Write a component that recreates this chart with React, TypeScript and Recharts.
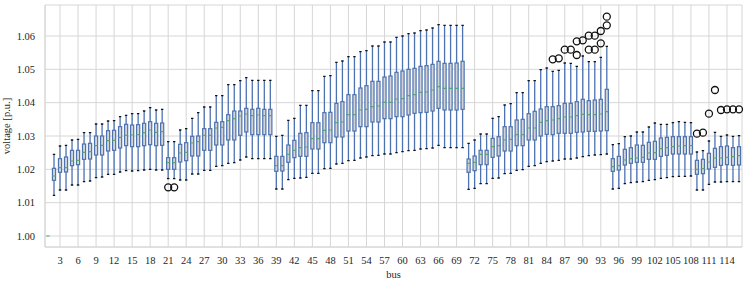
import { ComposedChart, Bar, Scatter, XAxis, YAxis, CartesianGrid } from 'recharts'

// bus voltage spread over all scenarios, one box per bus (bus 1 = slack)
const buses = Array.from({ length: 116 }, (_, i) => i + 1)

const whiskerLow = [
  1.0, 1.0122, 1.0138, 1.0138, 1.0153, 1.0153, 1.0163, 1.0165, 1.0175, 1.0177,
  1.0185, 1.0185, 1.0192, 1.0196, 1.0195, 1.0196, 1.0198, 1.02, 1.0198, 1.0198,
  1.0172, 1.0172, 1.0168, 1.0168, 1.0186, 1.0186, 1.0197, 1.0197, 1.0209, 1.0211,
  1.0218, 1.022, 1.0228, 1.0237, 1.0232, 1.0232, 1.0232, 1.0232, 1.0141, 1.0141,
  1.0169, 1.0173, 1.0174, 1.0176, 1.0188, 1.0188, 1.0202, 1.0203, 1.0216, 1.0218,
  1.0226, 1.0227, 1.0234, 1.0237, 1.0241, 1.0242, 1.0246, 1.0246, 1.025, 1.0253,
  1.0256, 1.0257, 1.0261, 1.0262, 1.0264, 1.0272, 1.0265, 1.0265, 1.0265, 1.0265,
  1.014, 1.0143, 1.0157, 1.0157, 1.0173, 1.0174, 1.0187, 1.0188, 1.0197, 1.0199,
  1.0209, 1.0211, 1.0218, 1.0223, 1.0225, 1.0227, 1.0231, 1.0231, 1.0234, 1.0238,
  1.0241, 1.0243, 1.0244, 1.0246, 1.0141, 1.0143, 1.0157, 1.016, 1.0162, 1.0163,
  1.0167, 1.0169, 1.0173, 1.0175, 1.0178, 1.0179, 1.0179, 1.018, 1.0138, 1.0138,
  1.0155, 1.0162, 1.0162, 1.0163, 1.0163, 1.0163,
]
const quartile1 = [
  1.0, 1.0167, 1.0191, 1.0192, 1.0211, 1.0214, 1.023, 1.0231, 1.0243, 1.0243,
  1.0255, 1.0257, 1.0264, 1.0271, 1.0268, 1.0268, 1.0271, 1.0274, 1.0271, 1.0272,
  1.02, 1.02, 1.0222, 1.0226, 1.024, 1.024, 1.0257, 1.0257, 1.0273, 1.0273,
  1.0288, 1.0288, 1.0302, 1.0312, 1.0304, 1.0304, 1.0304, 1.0304, 1.0194, 1.0195,
  1.0221, 1.0235, 1.0239, 1.0239, 1.0261, 1.0261, 1.028, 1.028, 1.0297, 1.0297,
  1.0315, 1.0315, 1.0328, 1.0328, 1.0342, 1.0342, 1.0352, 1.0352, 1.0358, 1.0358,
  1.0363, 1.0368, 1.037, 1.0371, 1.0375, 1.0383, 1.0378, 1.0378, 1.0378, 1.038,
  1.0191, 1.0196, 1.0214, 1.0214, 1.0236, 1.024, 1.0255, 1.0255, 1.0271, 1.0271,
  1.0288, 1.0288, 1.03, 1.0305, 1.0304, 1.0308, 1.0308, 1.0308, 1.0311, 1.0312,
  1.0314, 1.0314, 1.0315, 1.0316, 1.0194, 1.0198, 1.0213, 1.0218, 1.0221, 1.0221,
  1.023, 1.023, 1.0239, 1.0242, 1.0246, 1.0246, 1.0246, 1.0246, 1.0185, 1.0187,
  1.0201, 1.0206, 1.0212, 1.0214, 1.0212, 1.0213,
]
const median = [
  1.0, 1.018, 1.0205, 1.0205, 1.0225, 1.0227, 1.0251, 1.0253, 1.0271, 1.0272,
  1.0286, 1.0287, 1.0296, 1.0302, 1.0303, 1.0304, 1.031, 1.0318, 1.0311, 1.0313,
  1.022, 1.022, 1.0249, 1.0251, 1.0279, 1.0283, 1.0302, 1.0302, 1.0324, 1.0326,
  1.0346, 1.0352, 1.036, 1.0366, 1.0361, 1.0363, 1.0361, 1.0361, 1.0211, 1.0211,
  1.0245, 1.0257, 1.0265, 1.0267, 1.0292, 1.0292, 1.0317, 1.0318, 1.034, 1.0342,
  1.0364, 1.0364, 1.0378, 1.038, 1.0388, 1.039, 1.0401, 1.0401, 1.0411, 1.0412,
  1.0421, 1.0424, 1.0431, 1.0432, 1.0438, 1.0448, 1.0443, 1.0443, 1.0443, 1.0443,
  1.0218, 1.0221, 1.0245, 1.0245, 1.0268, 1.0271, 1.0288, 1.029, 1.0304, 1.0304,
  1.0324, 1.0324, 1.0341, 1.0346, 1.0348, 1.0352, 1.0357, 1.0357, 1.0361, 1.0365,
  1.0364, 1.0364, 1.0366, 1.0373, 1.0208, 1.0211, 1.0228, 1.0232, 1.0234, 1.0236,
  1.0249, 1.025, 1.0262, 1.0265, 1.0268, 1.027, 1.0271, 1.0271, 1.02, 1.0202,
  1.0222, 1.0234, 1.0234, 1.0236, 1.0238, 1.0241,
]
const quartile3 = [
  1.0, 1.0203, 1.0232, 1.0237, 1.0257, 1.0257, 1.0276, 1.0278, 1.03, 1.03,
  1.0316, 1.0317, 1.0328, 1.0335, 1.0333, 1.0334, 1.0338, 1.0343, 1.0338, 1.0339,
  1.0235, 1.0235, 1.0275, 1.028, 1.0299, 1.03, 1.0322, 1.0322, 1.0341, 1.0343,
  1.0364, 1.0375, 1.0375, 1.0383, 1.038, 1.0383, 1.038, 1.038, 1.0239, 1.0239,
  1.0273, 1.0287, 1.0308, 1.031, 1.034, 1.034, 1.037, 1.0371, 1.0398, 1.0403,
  1.0424, 1.0424, 1.0444, 1.0451, 1.0464, 1.0464, 1.0477, 1.048, 1.0491, 1.0495,
  1.05, 1.0503, 1.0509, 1.0511, 1.0515, 1.0524, 1.0518, 1.0518, 1.0519, 1.0524,
  1.0231, 1.024, 1.0257, 1.0257, 1.0293, 1.0298, 1.0328, 1.0328, 1.0348, 1.035,
  1.0367, 1.0374, 1.0381, 1.0388, 1.0388, 1.0391, 1.0398, 1.0398, 1.0403, 1.041,
  1.0406, 1.0408, 1.041, 1.044, 1.0232, 1.0239, 1.026, 1.0265, 1.0273, 1.0272,
  1.0281, 1.0284, 1.0294, 1.0296, 1.0298, 1.0298, 1.0298, 1.0298, 1.0227, 1.023,
  1.0248, 1.0263, 1.0268, 1.027, 1.0265, 1.0268,
]
const whiskerHigh = [
  1.0, 1.0245, 1.027, 1.0272, 1.0288, 1.029, 1.031, 1.031, 1.0336, 1.0336,
  1.0345, 1.0346, 1.0358, 1.0362, 1.0367, 1.0367, 1.0375, 1.0385, 1.0378, 1.038,
  1.0283, 1.0283, 1.0318, 1.0322, 1.0353, 1.037, 1.0387, 1.0387, 1.0421, 1.0421,
  1.0454, 1.0454, 1.0466, 1.0475, 1.0467, 1.0467, 1.0467, 1.0467, 1.0299, 1.0302,
  1.0347, 1.0353, 1.0392, 1.0392, 1.0436, 1.0436, 1.0479, 1.0481, 1.0521, 1.0525,
  1.0538, 1.0538, 1.0553, 1.0556, 1.057, 1.057, 1.0582, 1.0582, 1.0596, 1.06,
  1.0607, 1.0609, 1.0616, 1.0618, 1.0624, 1.0634, 1.0632, 1.0632, 1.0632, 1.0632,
  1.0278, 1.0288, 1.0306, 1.0306, 1.0353, 1.0358, 1.0393, 1.0397, 1.043, 1.043,
  1.0466, 1.0466, 1.0499, 1.0504, 1.0494, 1.0497, 1.0519, 1.0518, 1.0509, 1.054,
  1.0523, 1.0523, 1.0536, 1.0569, 1.0274, 1.0277, 1.0298, 1.03, 1.0312, 1.0312,
  1.0327, 1.0339, 1.0335, 1.0335, 1.034, 1.0343, 1.0341, 1.034, 1.0252, 1.0256,
  1.0285, 1.0311, 1.0299, 1.0303, 1.0299, 1.0301,
]

const outlierBus = [21, 22, 85, 86, 87, 88, 89, 89, 90, 91, 91, 92, 92, 93, 93, 94, 94, 109, 110, 111, 112, 113, 114, 115, 116]
const outlierValue = [
  1.0146, 1.0146, 1.053, 1.0533, 1.0559, 1.0559, 1.0584, 1.0543, 1.0587, 1.0601,
  1.0559, 1.0601, 1.0559, 1.0615, 1.0578, 1.0658, 1.0632, 1.0307, 1.031, 1.0367,
  1.0438, 1.0378, 1.038, 1.038, 1.038,
]

const xTicks = [3, 6, 9, 12, 15, 18, 21, 24, 27, 30, 33, 36, 39, 42, 45, 48, 51, 54, 57, 60, 63, 66, 69, 72, 75, 78, 81, 84, 87, 90, 93, 96, 99, 102, 105, 108, 111, 114]
const yTicks = [1.0, 1.01, 1.02, 1.03, 1.04, 1.05, 1.06]

const BLUE = '#4c72b0'
const GREEN = '#55a868'
const GRID = '#d6d6d6'
const TEXT = '#262626'
const FONT = "'Liberation Serif', 'Times New Roman', serif"

const data = buses.map((bus, i) => {
  const outs = outlierValue.filter((_, k) => outlierBus[k] === bus)
  return {
    bus,
    lo: whiskerLow[i],
    q1: quartile1[i],
    med: median[i],
    q3: quartile3[i],
    hi: whiskerHigh[i],
    o1: outs.length > 0 ? outs[0] : null,
    o2: outs.length > 1 ? outs[1] : null,
  }
})

// bar spans lo..hi, quartiles are placed inside that span
function BoxShape(props: any) {
  const { x, y, width, height, payload } = props
  if (x == null || y == null || !payload) return <g />
  const cx = x + width / 2
  const half = width * 0.26
  const cap = width * 0.2
  const top = Math.min(y, y + height)
  const span = Math.abs(height)
  const range = payload.hi - payload.lo
  if (!range || !span) return <g />
  const k = span / range
  const py = (v: number) => top + (payload.hi - v) * k
  return (
    <g>
      <line x1={cx} x2={cx} y1={py(payload.hi)} y2={py(payload.q3)} stroke={BLUE} strokeWidth={1.3} />
      <line x1={cx} x2={cx} y1={py(payload.q1)} y2={py(payload.lo)} stroke={BLUE} strokeWidth={1.3} />
      <rect
        x={cx - half}
        y={py(payload.q3)}
        width={half * 2}
        height={py(payload.q1) - py(payload.q3)}
        fill="#d2d4d9"
        stroke={BLUE}
        strokeWidth={1.2}
      />
      <line x1={cx - cap} x2={cx + cap} y1={py(payload.hi)} y2={py(payload.hi)} stroke="#111" strokeWidth={1.4} />
      <line x1={cx - cap} x2={cx + cap} y1={py(payload.lo)} y2={py(payload.lo)} stroke="#111" strokeWidth={1.4} />
    </g>
  )
}

function MedianMark(p: any) {
  if (!p || p.cx == null || p.cy == null) return <g />
  return <line x1={p.cx - 1.7} x2={p.cx + 1.7} y1={p.cy} y2={p.cy} stroke={GREEN} strokeWidth={1.1} />
}

function flier(key: 'o1' | 'o2') {
  return (p: any) => {
    if (!p || !p.payload || p.payload[key] == null || p.cx == null || p.cy == null) return <g />
    return <circle cx={p.cx} cy={p.cy} r={3.5} fill="none" stroke="#111" strokeWidth={1.3} />
  }
}

function YLabel(props: any) {
  const vb = props.viewBox || { y: 5, height: 242 }
  const cy = vb.y + vb.height / 2
  return (
    <text
      x={9.5}
      y={cy}
      transform={`rotate(-90, 9.5, ${cy})`}
      textAnchor="middle"
      fill={TEXT}
      fontSize={10.5}
      fontFamily={FONT}
    >
      voltage [p.u.]
    </text>
  )
}

const tickStyle = { fill: TEXT, fontSize: 10.5, fontFamily: FONT }

export default function App() {
  return (
    <div style={{ position: 'fixed', left: 0, top: 0, background: '#fff' }}>
      <ComposedChart
        width={748}
        height={281}
        data={data}
        margin={{ top: 5, right: 6, bottom: 0, left: 0 }}
        barCategoryGap={0}
        style={{ fontFamily: FONT }}
      >
        <CartesianGrid stroke={GRID} strokeWidth={1} />
        <XAxis
          dataKey="bus"
          type="category"
          ticks={xTicks}
          interval={0}
          height={34}
          tickLine={false}
          tickSize={0}
          tickMargin={10}
          axisLine={{ stroke: GRID }}
          tick={tickStyle}
          label={{ value: 'bus', position: 'insideBottom', offset: 3, fill: TEXT, fontSize: 10.5, fontFamily: FONT }}
        />
        <XAxis xAxisId="top" orientation="top" height={0} tick={false} tickLine={false} axisLine={{ stroke: GRID }} />
        <YAxis
          type="number"
          domain={[0.9967, 1.0693]}
          ticks={yTicks}
          allowDataOverflow
          width={45}
          tickLine={false}
          tickSize={0}
          tickMargin={10}
          axisLine={{ stroke: GRID }}
          tick={tickStyle}
          tickFormatter={(v: number) => v.toFixed(2)}
          label={<YLabel />}
        />
        <YAxis yAxisId="right" orientation="right" width={0} domain={[0, 1]} tick={false} tickLine={false} axisLine={{ stroke: GRID }} />
        <Bar dataKey={(d: any) => [d.lo, d.hi]} shape={BoxShape} isAnimationActive={false} />
        <Scatter dataKey="med" shape={MedianMark} isAnimationActive={false} />
        <Scatter dataKey="o1" shape={flier('o1')} isAnimationActive={false} />
        <Scatter dataKey="o2" shape={flier('o2')} isAnimationActive={false} />
      </ComposedChart>
    </div>
  )
}
